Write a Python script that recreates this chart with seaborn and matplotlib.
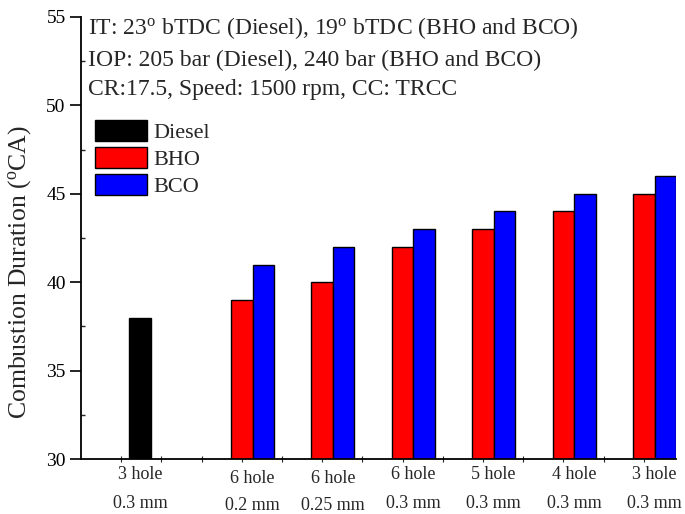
import numpy as np
import pandas as pd
import matplotlib
matplotlib.use("Agg")
import matplotlib.pyplot as plt
from matplotlib.ticker import MultipleLocator
import seaborn as sns

# ---- data ----
nozzles = ["3 hole 0.3 mm", "6 hole 0.2 mm", "6 hole 0.25 mm", "6 hole 0.3 mm",
           "5 hole 0.3 mm", "4 hole 0.3 mm", "3 hole 0.3 mm (B)"]
label_top = ["3 hole", "6 hole", "6 hole", "6 hole", "5 hole", "4 hole", "3 hole"]
label_bottom = ["0.3 mm", "0.2 mm", "0.25 mm", "0.3 mm", "0.3 mm", "0.3 mm", "0.3 mm"]
fuels = ["Diesel", "BHO", "BCO"]
diesel = [38, None, None, None, None, None, None]
bho = [None, 39, 40, 42, 43, 44, 45]
bco = [None, 41, 42, 43, 44, 45, 46]
colors = {"Diesel": "#000000", "BHO": "#ff0000", "BCO": "#0000ff"}

rows = []
for fuel, vals in zip(fuels, [diesel, bho, bco]):
    for n, v in zip(nozzles, vals):
        if v is not None:
            rows.append({"nozzle": n, "fuel": fuel, "value": v})
df = pd.DataFrame(rows)

# ---- style ----
sns.set_theme(style="ticks")
plt.rcParams["font.family"] = ["Liberation Serif", "DejaVu Serif"]
plt.rcParams["mathtext.fontset"] = "custom"
plt.rcParams["mathtext.rm"] = "Liberation Serif"
plt.rcParams["mathtext.it"] = "Liberation Serif:italic"

fig = plt.figure(figsize=(6.85, 5.14), dpi=100)
ax = fig.add_axes([0.1182, 0.107, 0.8687, 0.86])

sns.barplot(data=df, x="nozzle", y="value", hue="fuel", order=nozzles,
            hue_order=fuels, palette=colors, saturation=1, width=0.8,
            edgecolor="black", linewidth=1, errorbar=None, ax=ax)

ax.set_xlim(-1, 6.4)
ax.set_ylim(30, 55)
ax.yaxis.set_major_locator(MultipleLocator(5))
ax.yaxis.set_minor_locator(MultipleLocator(2.5))
ax.set_xticks(np.arange(-0.5, 6.5, 0.5))
ax.set_xticklabels([])
ax.set_xlabel("")
ax.set_ylabel(r"Combustion Duration ($^{\mathrm{o}}$CA)", fontsize=18.5)
ax.yaxis.set_label_coords(-0.08, 0.423)
ax.tick_params(axis="y", which="major", direction="out", length=8, width=1.2,
               labelsize=14, colors="black", pad=3)
ax.tick_params(axis="y", which="minor", direction="in", length=3, width=1.0)
ax.tick_params(axis="x", which="major", direction="inout", length=4, width=0.8)
for s in ["top", "right"]:
    ax.spines[s].set_visible(False)
for s in ["left", "bottom"]:
    ax.spines[s].set_linewidth(1.3)
    ax.spines[s].set_color("black")

# category labels under the visible bars
label_x = [-0.267, 1.133, 2.133, 3.133, 4.133, 5.133, 6.133]
label_y_top = [-0.036, -0.043, -0.043, -0.036, -0.036, -0.036, -0.036]
label_y_bot = [-0.101, -0.105, -0.105, -0.101, -0.101, -0.101, -0.101]
tr = ax.get_xaxis_transform()
for x, t1, t2, y1, y2 in zip(label_x, label_top, label_bottom, label_y_top, label_y_bot):
    ax.text(x, y1, t1, transform=tr, ha="center", va="center", fontsize=13, clip_on=False)
    ax.text(x, y2, t2, transform=tr, ha="center", va="center", fontsize=13, clip_on=False)

# annotations
notes = [r"IT: 23$^{\mathrm{o}}$ bTDC (Diesel), 19$^{\mathrm{o}}$ bTDC (BHO and BCO)",
         "IOP: 205 bar (Diesel), 240 bar (BHO and BCO)",
         "CR:17.5, Speed: 1500 rpm, CC: TRCC"]
for t, y in zip(notes, [0.976, 0.902, 0.836]):
    ax.text(0.012, y, t, transform=ax.transAxes, ha="left", va="center", fontsize=17)

handles, labels = ax.get_legend_handles_labels()
ax.legend(handles, labels, loc="upper left", bbox_to_anchor=(0.0235, 0.768),
          frameon=False, fontsize=16, handlelength=2.35, handleheight=1.08,
          handletextpad=0.3, labelspacing=0.18, borderaxespad=0, borderpad=0)

fig.savefig("out.png", dpi=100)
